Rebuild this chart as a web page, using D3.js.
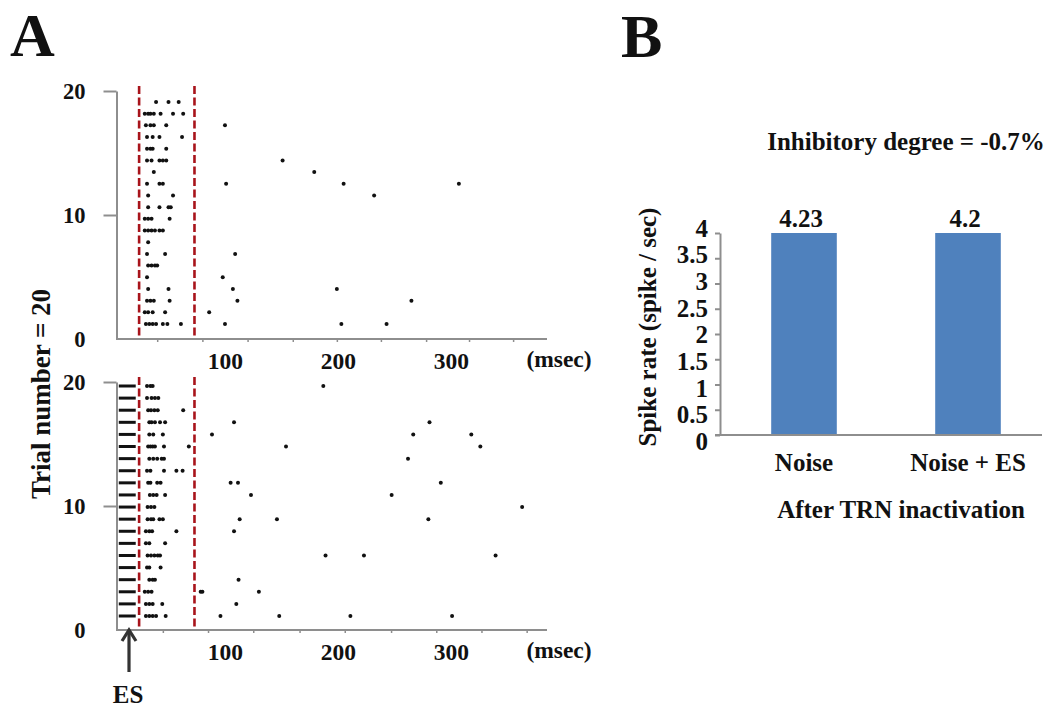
<!DOCTYPE html>
<html>
<head>
<meta charset="utf-8">
<script src="https://cdn.jsdelivr.net/npm/d3@7/dist/d3.min.js"></script>
<style>
  body { margin: 0; background: #fff; }
  svg text { font-family: "Liberation Serif", "Times New Roman", serif; font-weight: bold; fill: #111; }
</style>
</head>
<body>
<svg id="fig" width="1049" height="707"></svg>
<script>
// ---- data ----
var trials = [1, 2, 3, 4, 5, 6, 7, 8, 9, 10, 11, 12, 13, 14, 15, 16, 17, 18, 19, 20]

// spike times (msec) per trial, noise only (top raster)
var spikesNoise = [
  [30, 33, 36, 39, 45, 49, 61, 100, 203, 243],
  [29, 32, 36, 47, 86],
  [31, 34, 37, 51, 111, 265],
  [32, 50, 107, 199],
  [31, 98],
  [32, 35, 38, 40],
  [31, 47, 109],
  [32],
  [29, 32, 35, 38, 42, 45],
  [29, 32, 35, 51],
  [32, 42, 50, 52],
  [32, 54, 232],
  [31, 42, 45, 101, 205, 307],
  [37, 179],
  [31, 35, 42, 45, 48, 151],
  [31, 34, 36, 48],
  [31, 36, 42, 62],
  [30, 34, 37, 48, 100],
  [29, 32, 34, 37, 43, 54, 63],
  [39, 50, 59]
]

// spike times (msec) per trial, noise + ES (bottom raster)
var spikesNoiseES = [
  [30, 33, 36, 39, 47.5, 96, 148, 211, 301],
  [30, 33, 36, 44.5, 110],
  [29, 32, 35, 78.5, 80, 130],
  [33, 36, 38, 112],
  [31, 33, 43],
  [31.5, 34.5, 37.5, 40.5, 42.5, 189, 223, 339.5],
  [30, 33, 47],
  [30, 33, 35.5, 57, 108],
  [31.5, 34.5, 36.5, 42, 45, 113, 146, 280],
  [31.5, 34.5, 37.5, 363],
  [33.5, 36.5, 39.5, 47, 123, 247.5],
  [32, 34, 40, 43, 105, 111.5, 291],
  [31, 34, 46, 57, 62.5],
  [33, 36.5, 40, 44, 46, 262],
  [32, 34, 36, 38, 46, 68, 154, 326],
  [33, 36.5, 45, 88.5, 266.6, 318],
  [33, 35, 38, 42.5, 47, 108, 281],
  [32, 34.5, 37.5, 40.5, 63],
  [31, 35, 38, 41],
  [31, 34, 36, 187]
]

var esArtifact = [6, 21]          // msec, stimulation artifact in every ES trial
var responseWindow = [24, 73]     // msec, red dashed lines
var rasterYTicks = [0, 10, 20]
var rasterXLabels = [100, 200, 300]
var minorTicksTop = [40, 80, 120, 160, 199, 238, 278, 316, 355]
var minorTicksBottom = [45, 85, 125, 166, 206, 247, 287, 327, 367]

var conditions = ['Noise', 'Noise + ES']
var spikeRates = [4.23, 4.2]
var rateTicks = [0, 0.5, 1, 1.5, 2, 2.5, 3, 3.5, 4]

// ---- drawing ----
var svg = d3.select('#fig')
var axisGrey = '#8e8e8e'

var x = d3.scaleLinear().domain([0, 385]).range([112, 547])

drawRaster({ top: 91, bottom: 339, rowTop: 102, rowBottom: 324,
             spikes: spikesNoise, minor: minorTicksTop, es: false })
drawRaster({ top: 382, bottom: 630, rowTop: 386, rowBottom: 616,
             spikes: spikesNoiseES, minor: minorTicksBottom, es: true })

function drawRaster(o) {
  var g = svg.append('g')
  var y = d3.scaleLinear().domain([0, 20]).range([o.bottom, o.top])
  var row = d3.scalePoint().domain(trials).range([o.rowBottom, o.rowTop])

  // y axis
  var yAxis = g.append('g').attr('transform', 'translate(116.5,0)')
    .call(d3.axisLeft(y).tickValues(rasterYTicks).tickSize(13).tickSizeOuter(0).tickPadding(18))
  yAxis.selectAll('.tick line').attr('stroke', axisGrey).attr('stroke-width', 2)
    .filter(function (d) { return d === 0 }).remove()
  yAxis.select('.domain').attr('stroke', axisGrey).attr('stroke-width', 2)
  yAxis.selectAll('.tick text').attr('font-size', 22.5)

  // x axis: minor ticks, then labels
  var xAxis = g.append('g').attr('transform', 'translate(0,' + o.bottom + ')')
  xAxis.append('g')
    .call(d3.axisBottom(x).tickValues(o.minor).tickSize(3).tickFormat(''))
    .call(function (s) { s.select('.domain').remove() })
    .selectAll('.tick line').attr('stroke', axisGrey).attr('stroke-width', 1.5)
  xAxis.append('line').attr('x1', 116).attr('x2', 547)
    .attr('stroke', axisGrey).attr('stroke-width', 2)
  var lab = xAxis.append('g')
    .call(d3.axisBottom(x).tickValues(rasterXLabels).tickSize(0).tickPadding(13).tickFormat(d3.format('d')))
  lab.select('.domain').remove()
  lab.selectAll('text').attr('font-size', 23.5)
  xAxis.append('text').attr('x', 559).attr('y', 28).attr('text-anchor', 'middle')
    .attr('font-size', 23.5).text('(msec)')

  // ES artifact bars
  if (o.es) {
    g.append('g').selectAll('line').data(trials).join('line')
      .attr('x1', x(esArtifact[0])).attr('x2', x(esArtifact[1]))
      .attr('y1', function (d) { return row(d) }).attr('y2', function (d) { return row(d) })
      .attr('stroke', '#111').attr('stroke-width', 3)
  }

  // response window
  g.append('g').selectAll('line').data(responseWindow).join('line')
    .attr('x1', function (d) { return x(d) }).attr('x2', function (d) { return x(d) })
    .attr('y1', o.top - 5).attr('y2', o.bottom)
    .attr('stroke', '#a8141b').attr('stroke-width', 2.6).attr('stroke-dasharray', '8,3.5')

  // spikes
  var pts = []
  o.spikes.forEach(function (times, i) {
    times.forEach(function (t) { pts.push({ trial: trials[i], t: t }) })
  })
  g.append('g').selectAll('circle').data(pts).join('circle')
    .attr('cx', function (d) { return x(d.t) })
    .attr('cy', function (d) { return row(d.trial) })
    .attr('r', 2).attr('fill', '#111')
}

// Trial axis title
svg.append('text').attr('transform', 'translate(50,394) rotate(-90)')
  .attr('text-anchor', 'middle').attr('font-size', 27).text('Trial number = 20')

// ES arrow
svg.append('line').attr('x1', 129).attr('x2', 129).attr('y1', 631).attr('y2', 672)
  .attr('stroke', '#333').attr('stroke-width', 3.2)
svg.append('path').attr('d', 'M122,641 L129,630 L136,641')
  .attr('fill', 'none').attr('stroke', '#333').attr('stroke-width', 3.2)
svg.append('text').attr('x', 128).attr('y', 703).attr('text-anchor', 'middle')
  .attr('font-size', 25).text('ES')

// panel letters
svg.append('text').attr('x', 10).attr('y', 56).attr('font-size', 62).text('A')
svg.append('text').attr('x', 621).attr('y', 57).attr('font-size', 62).text('B')

// ---- panel B: bar chart ----
var yBar = d3.scaleLinear().domain([0, 4]).range([435, 233]).clamp(true)
var yBarLabel = d3.scaleLinear().domain([0, 4]).range([441, 228])
var xBar = d3.scaleBand().domain(conditions).range([722, 1050]).paddingInner(0.6).paddingOuter(0.3)

var gb = svg.append('g')
gb.append('g').selectAll('rect').data(spikeRates).join('rect')
  .attr('x', function (d, i) { return xBar(conditions[i]) })
  .attr('width', xBar.bandwidth())
  .attr('y', function (d) { return yBar(d) })
  .attr('height', function (d) { return yBar(0) - yBar(d) })
  .attr('fill', '#4f81bd')

var yAx = gb.append('g').attr('transform', 'translate(720,0)')
  .call(d3.axisLeft(yBar).tickValues(rateTicks).tickSize(5).tickSizeOuter(0).tickFormat(''))
yAx.selectAll('line, path').attr('stroke', axisGrey).attr('stroke-width', 2)
gb.append('g').selectAll('text').data(rateTicks).join('text')
  .attr('x', 708).attr('y', function (d) { return yBarLabel(d) }).attr('dy', '0.35em')
  .attr('text-anchor', 'end').attr('font-size', 25).text(function (d) { return d })

gb.append('line').attr('x1', 715).attr('x2', 1042).attr('y1', 435).attr('y2', 435)
  .attr('stroke', axisGrey).attr('stroke-width', 2)

gb.append('g').selectAll('text').data(conditions).join('text')
  .attr('x', function (d) { return xBar(d) + xBar.bandwidth() / 2 })
  .attr('y', 471).attr('text-anchor', 'middle').attr('font-size', 25)
  .text(function (d) { return d })

gb.append('g').selectAll('text').data(spikeRates).join('text')
  .attr('x', function (d, i) { return xBar(conditions[i]) + xBar.bandwidth() / 2 - 3 })
  .attr('y', 227).attr('text-anchor', 'middle').attr('font-size', 25)
  .text(function (d) { return d })

svg.append('text').attr('x', 906).attr('y', 150).attr('text-anchor', 'middle')
  .attr('font-size', 25).text('Inhibitory degree = -0.7%')
svg.append('text').attr('x', 901).attr('y', 518).attr('text-anchor', 'middle')
  .attr('font-size', 25).text('After TRN inactivation')
svg.append('text').attr('transform', 'translate(656,327) rotate(-90)')
  .attr('text-anchor', 'middle').attr('font-size', 25).text('Spike rate (spike / sec)')
</script>
</body>
</html>
